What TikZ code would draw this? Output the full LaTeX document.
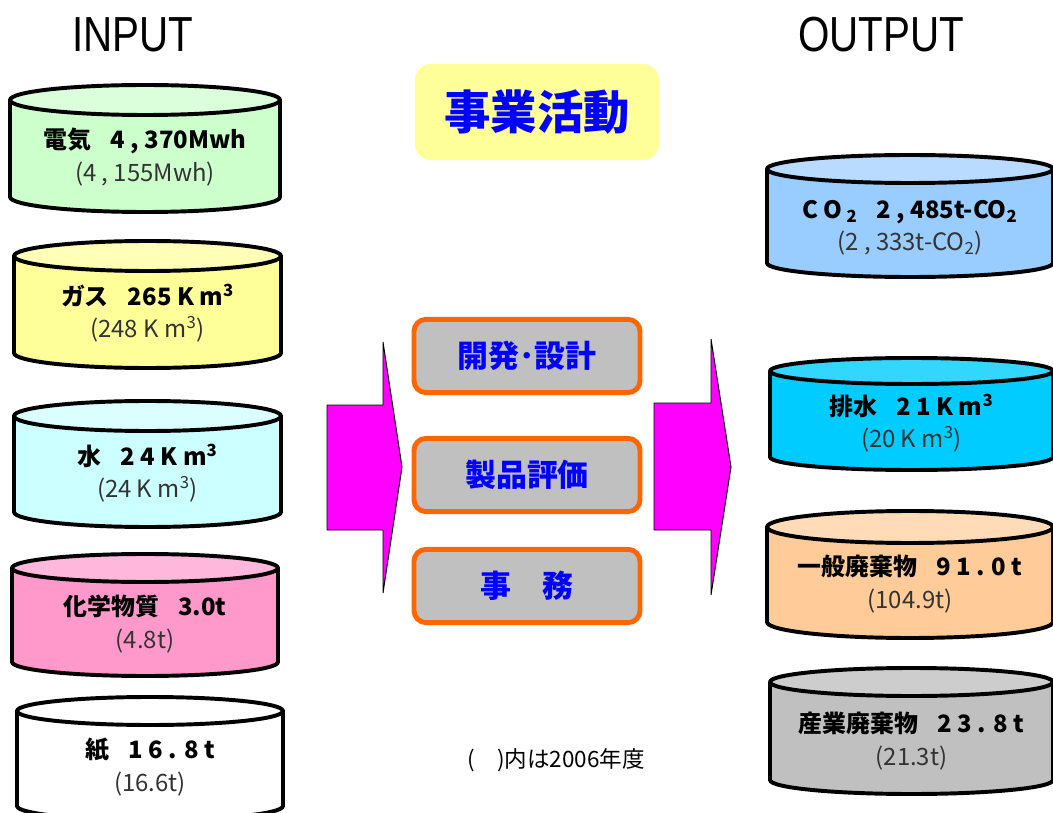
\documentclass[tikz,border=0pt]{standalone}
\usepackage{fontspec}
\setmainfont{Liberation Sans}
\newfontfamily\jpfont{Noto Sans CJK JP}
\newcommand{\gap}{\hspace{0.8em}}
\definecolor{elecfill}{HTML}{CCFFCC}
\definecolor{gasfill}{HTML}{FFFF99}
\definecolor{waterfill}{HTML}{CCFFFF}
\definecolor{chemfill}{HTML}{FF99CC}
\definecolor{co2fill}{HTML}{99CCFF}
\definecolor{drainfill}{HTML}{00CCFF}
\definecolor{wastefill}{HTML}{FFCC99}
\definecolor{indfill}{HTML}{C0C0C0}
\definecolor{titlefill}{HTML}{FFFF99}
\definecolor{procfill}{HTML}{C0C0C0}
\definecolor{procline}{HTML}{FF6600}
\definecolor{textblue}{HTML}{0000FF}
\definecolor{arrowfill}{HTML}{FF00FF}
\definecolor{prevgray}{HTML}{333333}
\begin{document}
\begin{tikzpicture}[x=0.025cm, y=-0.025cm,
	cylside/.style = {draw=black, line width=2.8pt, line join=round},
	cyltext/.style = {align=center, font=\jpfont\fontsize{17}{23}\selectfont},
	procbox/.style = {rectangle, rounded corners=0.3cm, draw=procline, fill=procfill, line width=3.5pt,
		minimum width=5.65cm, minimum height=1.83cm, text=textblue, font=\jpfont\bfseries\fontsize{22}{26}\selectfont},
	bigarrow/.style = {draw=black, line width=0.7pt, fill=arrowfill},
	headtext/.style = {font=\fontsize{35}{40}\selectfont, xscale=0.82}]
	\useasboundingbox (0,0) rectangle (1053,813);

	\node (input) at (133,35) [headtext] {INPUT};
	\node (output) at (881,35) [headtext] {OUTPUT};

	\node (title) at (537,112) [rectangle, rounded corners=0.4cm, fill=titlefill, minimum width=6.1cm, minimum height=2.4cm,
		text=textblue, font=\jpfont\bfseries\fontsize{33}{36}\selectfont] {事業活動};

	\filldraw[cylside, fill=elecfill] (10,100) -- (10,197) arc[start angle=180, end angle=0, x radius=135, y radius=15] -- (280,100) -- cycle;
	\filldraw[cylside, fill=elecfill!70!white] (145,100) ellipse [x radius=135, y radius=15];
	\node (elec) at (145,157) [cyltext] {\textbf{電気\gap 4 , 370Mwh}\\\textcolor{prevgray}{(4 , 155Mwh)}};

	\filldraw[cylside, fill=gasfill] (14,256) -- (14,353) arc[start angle=180, end angle=0, x radius=133.5, y radius=15] -- (281,256) -- cycle;
	\filldraw[cylside, fill=gasfill!70!white] (147.5,256) ellipse [x radius=133.5, y radius=15];
	\node (gas) at (147.5,313) [cyltext] {\textbf{ガス\gap 265 K m\textsuperscript{3}}\\\textcolor{prevgray}{(248 K m\textsuperscript{3})}};

	\filldraw[cylside, fill=waterfill] (14,416) -- (14,512) arc[start angle=180, end angle=0, x radius=133.5, y radius=15] -- (281,416) -- cycle;
	\filldraw[cylside, fill=waterfill!70!white] (147.5,416) ellipse [x radius=133.5, y radius=15];
	\node (water) at (147.5,473) [cyltext] {\textbf{水\gap 2 4 K m\textsuperscript{3}}\\\textcolor{prevgray}{(24 K m\textsuperscript{3})}};

	\filldraw[cylside, fill=chemfill] (12,568) -- (12,662) arc[start angle=180, end angle=0, x radius=133, y radius=14] -- (278,568) -- cycle;
	\filldraw[cylside, fill=chemfill!70!white] (145,568) ellipse [x radius=133, y radius=14];
	\node (chem) at (145,624) [cyltext] {\textbf{化学物質\gap 3.0t}\\\textcolor{prevgray}{(4.8t)}};

	\filldraw[cylside, fill=white] (17,711) -- (17,806) arc[start angle=180, end angle=0, x radius=133, y radius=14] -- (283,711) -- cycle;
	\filldraw[cylside, fill=white] (150,711) ellipse [x radius=133, y radius=14];
	\node (paper) at (150,767) [cyltext] {\textbf{紙\gap 1 6 . 8 t}\\\textcolor{prevgray}{(16.6t)}};

	\filldraw[bigarrow] (327,405) -- (383,405) -- (383,342) -- (402,467) -- (383,593) -- (383,530) -- (327,530) -- cycle;
	\filldraw[bigarrow] (654,403) -- (711,403) -- (711,339) -- (731,467) -- (711,595) -- (711,530) -- (654,530) -- cycle;

	\node (design) at (527,356) [procbox] {開発･設計};
	\node (eval) at (527,475) [procbox] {製品評価};
	\node (office) at (527,586) [procbox] {事　務};

	\node (note) at (556,760) [font=\jpfont\fontsize{16}{18}\selectfont] {(　)内は2006年度};

	\filldraw[cylside, fill=co2fill] (767,169) -- (767,263) arc[start angle=180, end angle=0, x radius=143, y radius=14] -- (1053,169) -- cycle;
	\filldraw[cylside, fill=co2fill!70!white] (910,169) ellipse [x radius=143, y radius=14];
	\node (co2) at (910,228) [cyltext] {\textbf{C O\,\textsubscript{2}\gap 2 , 485t-CO\textsubscript{2}}\\\textcolor{prevgray}{(2 , 333t-CO\textsubscript{2})}};

	\filldraw[cylside, fill=drainfill] (770,371) -- (770,457) arc[start angle=180, end angle=0, x radius=141.5, y radius=13] -- (1053,371) -- cycle;
	\filldraw[cylside, fill=drainfill!80!white] (911.5,371) ellipse [x radius=141.5, y radius=13];
	\node (drain) at (911.5,423) [cyltext] {\textbf{排水\gap 2 1 K m\textsuperscript{3}}\\\textcolor{prevgray}{(20 K m\textsuperscript{3})}};

	\filldraw[cylside, fill=wastefill] (767,527) -- (767,622) arc[start angle=180, end angle=0, x radius=143, y radius=16] -- (1053,527) -- cycle;
	\filldraw[cylside, fill=wastefill!70!white] (910,527) ellipse [x radius=143, y radius=16];
	\node (waste) at (910,584) [cyltext] {\textbf{一般廃棄物\gap 9 1 . 0 t}\\\textcolor{prevgray}{(104.9t)}};

	\filldraw[cylside, fill=indfill] (770,682) -- (770,780) arc[start angle=180, end angle=0, x radius=141.5, y radius=14] -- (1053,682) -- cycle;
	\filldraw[cylside, fill=indfill!80!white] (911.5,682) ellipse [x radius=141.5, y radius=14];
	\node (indwaste) at (911.5,741) [cyltext] {\textbf{産業廃棄物\gap 2 3 . 8 t}\\\textcolor{prevgray}{(21.3t)}};
\end{tikzpicture}
\end{document}
